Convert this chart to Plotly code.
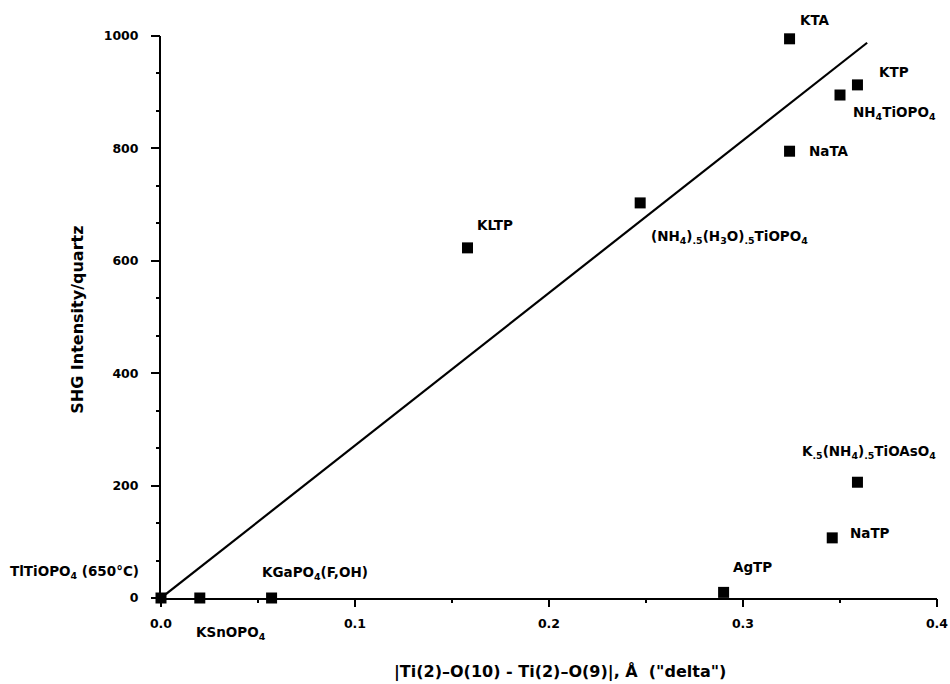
import plotly.graph_objects as go

# ---- data ----
compounds = [
    "TlTiOPO<sub>4</sub> (650°C)",
    "KSnOPO<sub>4</sub>",
    "KGaPO<sub>4</sub>(F,OH)",
    "AgTP",
    "NaTP",
    "K<sub>.5</sub>(NH<sub>4</sub>)<sub>.5</sub>TiOAsO<sub>4</sub>",
    "KLTP",
    "(NH<sub>4</sub>)<sub>.5</sub>(H<sub>3</sub>O)<sub>.5</sub>TiOPO<sub>4</sub>",
    "NaTA",
    "NH<sub>4</sub>TiOPO<sub>4</sub>",
    "KTP",
    "KTA",
]
delta = [0.0, 0.020, 0.057, 0.290, 0.346, 0.359, 0.158, 0.247, 0.324, 0.350, 0.359, 0.324]
shg = [0, 0, 0, 10, 107, 206, 623, 703, 795, 895, 913, 995]

fit_x = [0.0, 0.364]
fit_y = [0, 988]

x_title = "|Ti(2)–O(10) - Ti(2)–O(9)|, Å  (\"delta\")"
y_title = "SHG Intensity/quartz"

# ---- label placement (style) ----
label_style = [
    ("right", -20, 26),
    ("left", -6, -35),
    ("left", -12, 25),
    ("left", 7, 25),
    ("left", 16, 5),
    ("center", 12, 30),
    ("left", 7, 23),
    ("left", 9, -34),
    ("left", 17, 0),
    ("left", 11, -18),
    ("left", 20, 13),
    ("left", 8, 19),
]

FONT = "DejaVu Sans, Liberation Sans, Arial, sans-serif"

fig = go.Figure()
fig.add_trace(go.Scatter(
    x=fit_x, y=fit_y, mode="lines",
    line=dict(color="black", width=2.2),
    cliponaxis=False, hoverinfo="skip", showlegend=False,
))
fig.add_trace(go.Scatter(
    x=delta, y=shg, mode="markers",
    marker=dict(symbol="square", size=11, color="black"),
    cliponaxis=False, showlegend=False,
))
# invisible trace so that the minor-tick overlay axes are rendered
fig.add_trace(go.Scatter(
    x=delta, y=shg, mode="markers", xaxis="x2", yaxis="y2",
    marker=dict(opacity=0), hoverinfo="skip", showlegend=False,
))

annotations = []
for name, xv, yv, (anc, dx, dy) in zip(compounds, delta, shg, label_style):
    annotations.append(dict(
        x=xv, y=yv, xref="x", yref="y", text=name, showarrow=False,
        xanchor=anc, yanchor="middle", xshift=dx, yshift=dy,
        font=dict(family=FONT, size=13.5, color="black", weight=700),
    ))

annotations.append(dict(
    x=0.514, y=-0.132, xref="paper", yref="paper", showarrow=False,
    xanchor="center", yanchor="middle", text=x_title,
    font=dict(family=FONT, size=16, color="black", weight=700),
))
annotations.append(dict(
    x=-0.107, y=0.495, xref="paper", yref="paper", showarrow=False,
    xanchor="center", yanchor="middle", textangle=-90, text=y_title,
    font=dict(family=FONT, size=16, color="black", weight=700),
))

axis_common = dict(
    showgrid=False, zeroline=False, automargin=False,
)

fig.update_layout(
    width=950, height=684,
    margin=dict(l=161, r=13, t=36, b=86),
    paper_bgcolor="white", plot_bgcolor="white",
    annotations=annotations,
    xaxis=dict(
        range=[0, 0.4], tickmode="linear", tick0=0, dtick=0.1, tickformat=".1f",
        showline=True, linecolor="black", linewidth=2,
        ticks="outside", ticklen=7, tickwidth=2, tickcolor="black",
        ticklabelstandoff=6,
        tickfont=dict(family=FONT, size=12.5, color="black", weight=700),
        **axis_common,
    ),
    yaxis=dict(
        range=[0, 1000], tickmode="linear", tick0=0, dtick=200,
        showline=True, linecolor="black", linewidth=2,
        ticks="outside", ticklen=8, tickwidth=2, tickcolor="black",
        ticklabelstandoff=10,
        tickfont=dict(family=FONT, size=12.5, color="black", weight=700),
        **axis_common,
    ),
    xaxis2=dict(
        range=[0, 0.4], overlaying="x", anchor="y", side="bottom",
        tickmode="linear", tick0=0, dtick=0.05,
        showline=False, showticklabels=False,
        ticks="outside", ticklen=4, tickwidth=1.5, tickcolor="black",
        **axis_common,
    ),
    yaxis2=dict(
        range=[0, 1000], overlaying="y", anchor="x", side="left",
        tickmode="linear", tick0=0, dtick=200 / 3,
        showline=False, showticklabels=False,
        ticks="outside", ticklen=4, tickwidth=1.5, tickcolor="black",
        **axis_common,
    ),
)

fig.write_html(
    "out.html",
    config={"displayModeBar": False},
    post_script="document.body.style.margin='0';document.body.style.padding='0';",
)
